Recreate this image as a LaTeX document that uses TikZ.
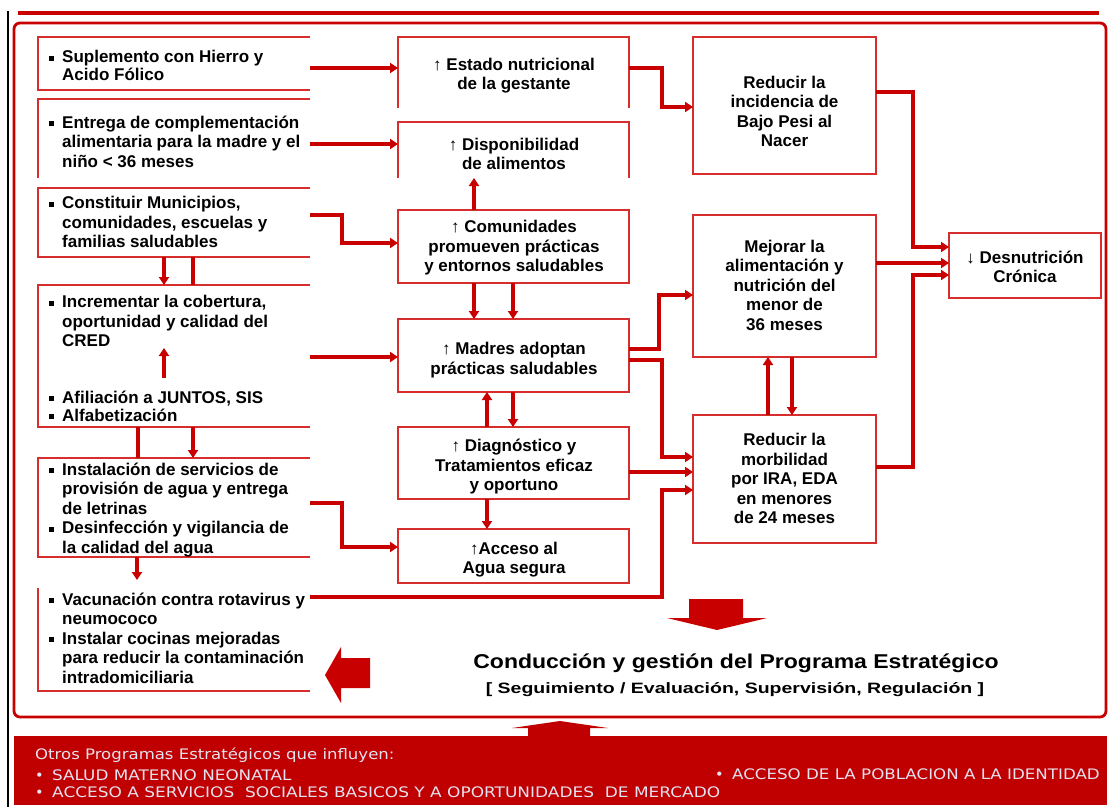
\documentclass[tikz,border=0pt]{standalone}
\usepackage{graphicx}
\usepackage{fontspec}
\setmainfont{Liberation Sans}
\newfontfamily\bandfont{DejaVu Sans}
\usetikzlibrary{arrows.meta}
\definecolor{rl}{RGB}{200,0,0}
\definecolor{bl}{RGB}{215,45,45}
\definecolor{band}{RGB}{192,0,0}
\definecolor{btxt}{RGB}{228,226,240}
\newcommand{\bu}{\makebox[13pt][l]{\rule[2pt]{5pt}{5pt}}}
\newcommand{\ind}{\hspace*{13pt}}
\newcommand{\bbu}{\makebox[17pt][l]{•}}
\begin{document}
\begin{tikzpicture}[x=1pt,y=-1pt,
  gbox/.style={inner sep=0pt, outer sep=0pt, draw=none},
  fullbox/.style={inner sep=0pt, outer sep=0pt, draw=bl, line width=1.8pt},
  brd/.style={draw=bl, line width=1.8pt},
  txt/.style={font=\bfseries\fontsize{17}{19.5}\selectfont, align=center, inner sep=0pt},
  ltxt/.style={font=\bfseries\fontsize{17}{19.5}\selectfont, align=left, inner sep=0pt, anchor=west},
  ar/.style={draw=rl, line width=3.2pt, -{Triangle[length=8pt,width=10pt]}},
  ln/.style={draw=rl, line width=3.2pt},
  btext/.style={font=\bandfont\fontsize{14.5}{16}\selectfont, text=btxt, anchor=west, inner sep=0pt}]
\useasboundingbox (0,0) rectangle (1112,807);
\fill[white] (0,0) rectangle (1112,807);

% frame
\draw[black, line width=2pt] (7.5,11) -- (7.5,807);
\draw[rl, line width=4.5pt] (18,13) -- (1099,13);
\draw[rl, line width=2.8pt, rounded corners=6pt] (14,23) rectangle (1106,717);

% left boxes
\node[gbox, minimum width=272pt, minimum height=53pt] (L1) at (174,63.5) {};
\node[gbox, minimum width=272pt, minimum height=79pt] (L2) at (174,138.5) {};
\node[gbox, minimum width=272pt, minimum height=69pt] (L3) at (174,222.5) {};
\node[gbox, minimum width=272pt, minimum height=142pt] (L4) at (174,356) {};
\node[gbox, minimum width=272pt, minimum height=99pt] (L5) at (174,507.5) {};
\node[gbox, minimum width=272pt, minimum height=111pt] (L6) at (174,635.5) {};
\draw[brd] (L1.north east) -- (L1.north west) -- (L1.south west) -- (L1.south east);
\draw[brd] (L2.north east) -- (L2.north west) -- (L2.south west);
\draw[brd] (L3.north east) -- (L3.north west) -- (L3.south west) -- (L3.south east);
\draw[brd] (L4.north east) -- (L4.north west) -- (L4.south west) -- (L4.south east);
\draw[brd] (L5.north east) -- (L5.north west) -- (L5.south west) -- (L5.south east);
\draw[brd] ([yshift=-8pt]L6.north west) -- (L6.south west) -- (L6.south east);

\node[ltxt, font=\bfseries\fontsize{17}{17.5}\selectfont] (tL1) at (49,65.5) {\bu Suplemento con Hierro y\\\ind Acido Fólico};
\node[ltxt] (tL2) at (49,141.7) {\bu Entrega de complementación\\\ind alimentaria para la madre y el\\\ind niño < 36 meses};
\node[ltxt] (tL3) at (49,222) {\bu Constituir Municipios,\\\ind comunidades, escuelas y\\\ind familias saludables};
\node[ltxt] (tL4a) at (49,321) {\bu Incrementar la cobertura,\\\ind oportunidad y calidad del\\\ind CRED};
\node[ltxt, font=\bfseries\fontsize{17}{18}\selectfont] (tL4b) at (49,406) {\bu Afiliación a JUNTOS, SIS\\\bu Alfabetización};
\node[ltxt] (tL5) at (49,510) {\bu Instalación de servicios de\\\ind provisión de agua y entrega\\\ind de letrinas\\\bu Desinfección y vigilancia de\\\ind la calidad del agua};
\node[ltxt] (tL6) at (49,638) {\bu Vacunación contra rotavirus y\\\ind neumococo\\\bu Instalar cocinas mejoradas\\\ind para reducir la contaminación\\\ind intradomiciliaria};

% middle boxes
\node[gbox, minimum width=231pt, minimum height=71pt] (A) at (513.5,72.5) {};
\node[gbox, minimum width=231pt, minimum height=56pt] (B) at (513.5,150) {};
\node[fullbox, minimum width=231pt, minimum height=73pt] (C) at (513.5,246.5) {};
\node[fullbox, minimum width=231pt, minimum height=73pt] (D) at (513.5,355.5) {};
\node[fullbox, minimum width=231pt, minimum height=72pt] (E) at (513.5,463) {};
\node[fullbox, minimum width=231pt, minimum height=54pt] (F) at (513.5,556) {};
\draw[brd] (A.south west) -- (A.north west) -- (A.north east) -- (A.south east);
\draw[brd] (B.south west) -- (B.north west) -- (B.north east) -- (B.south east);

\node[txt] (tA) at (514,75.5) {↑ Estado nutricional\\de la gestante};
\node[txt] (tB) at (514,154) {↑ Disponibilidad\\de alimentos};
\node[txt] (tC) at (514,248) {↑ Comunidades\\promueven prácticas\\y entornos saludables};
\node[txt] (tD) at (514,360) {↑ Madres adoptan\\prácticas saludables};
\node[txt] (tE) at (514,467) {↑ Diagnóstico y\\Tratamientos eficaz\\y oportuno};
\node[txt] (tF) at (514,559.5) {↑Acceso al\\Agua segura};

% right boxes
\node[fullbox, minimum width=183pt, minimum height=137pt] (G) at (784.5,105.5) {};
\node[fullbox, minimum width=183pt, minimum height=142pt] (H) at (784.5,286) {};
\node[fullbox, minimum width=183pt, minimum height=128pt] (I) at (784.5,479) {};
\node[fullbox, minimum width=152pt, minimum height=65pt] (J) at (1025,265.5) {};
\node[txt] (tG) at (784.5,111.5) {Reducir la\\incidencia de\\Bajo Pesi al\\Nacer};
\node[txt] (tH) at (784.5,285) {Mejorar la\\alimentación y\\nutrición del\\menor de\\36 meses};
\node[txt] (tI) at (784.5,478.5) {Reducir la\\morbilidad\\por IRA, EDA\\en menores\\de 24 meses};
\node[txt] (tJ) at (1025,267) {↓ Desnutrición\\Crónica};

% connectors left -> middle
\draw[ar] (L1.east |- 0,68) -- (A.west |- 0,68);
\draw[ar] (L2.east |- 0,144) -- (B.west |- 0,144);
\draw[ar] (L3.east |- 0,215) -- (342,215) -- (342,243) -- (C.west |- 0,243);
\draw[ar] (L4.east |- 0,357) -- (D.west |- 0,357);
\draw[ar] (L5.east |- 0,503) -- (342,503) -- (342,547) -- (F.west |- 0,547);
\draw[ar] (L6.east |- 0,597) -- (662,597) -- (662,490) -- (I.west |- 0,490);

% left verticals
\draw[ar] (L3.south -| 164,0) -- (L4.north -| 164,0);
\draw[ln] (L3.south -| 193,0) -- (L4.north -| 193,0);
\coordinate (c4a) at (164,378);
\coordinate (c4b) at (164,348);
\draw[ar] (c4a) -- (c4b);
\draw[ln] (L4.south -| 138,0) -- (L5.north -| 138,0);
\draw[ar] (L4.south -| 193,0) -- (L5.north -| 193,0);
\draw[ar] (L5.south -| 137,0) -- (L6.north -| 137,0);

% middle verticals
\draw[ar] (C.north -| 474,0) -- (B.south -| 474,0);
\draw[ar] (C.south -| 474,0) -- (D.north -| 474,0);
\draw[ar] (C.south -| 513,0) -- (D.north -| 513,0);
\draw[ar] (E.north -| 487,0) -- (D.south -| 487,0);
\draw[ar] (D.south -| 513,0) -- (E.north -| 513,0);
\draw[ar] (E.south -| 487,0) -- (F.north -| 487,0);

% middle -> right
\draw[ar] (A.east |- 0,68) -- (662,68) -- (662,107) -- (G.west |- 0,107);
\draw[ar] (D.east |- 0,349) -- (659,349) -- (659,295) -- (H.west |- 0,295);
\draw[ar] (D.east |- 0,360) -- (662,360) -- (662,457) -- (I.west |- 0,457);
\draw[ar] (E.east |- 0,472) -- (I.west |- 0,472);

% right
\draw[ar] (I.north -| 768,0) -- (H.south -| 768,0);
\draw[ar] (H.south -| 792,0) -- (I.north -| 792,0);
\draw[ar] (G.east |- 0,92) -- (913,92) -- (913,247) -- (J.west |- 0,247);
\draw[ar] (H.east |- 0,263) -- (J.west |- 0,263);
\draw[ar] (I.east |- 0,467) -- (913,467) -- (913,275) -- (J.west |- 0,275);

% big arrows
\fill[rl] (370,658) -- (341,658) -- (341,647) -- (325,675) -- (341,703) -- (341,688) -- (370,688) -- cycle;
\fill[rl] (689,599) -- (743,599) -- (743,618) -- (767,618) -- (717,630) -- (667,618) -- (689,618) -- cycle;

% title
\node[font=\bfseries\fontsize{20}{24}\selectfont, inner sep=0pt] (title) at (736,663) {\scalebox{1.15}[1]{Conducción y gestión del Programa Estratégico}};
\node[font=\bfseries\fontsize{15}{18}\selectfont, inner sep=0pt] (sub) at (735,690) {\scalebox{1.3}[1]{[ Seguimiento / Evaluación, Supervisión, Regulación ]}};

% bottom band
\fill[band] (14,736) rectangle (1107,805);
\fill[band] (528,737) -- (528,728) -- (512,728) -- (560,721) -- (608,728) -- (590,728) -- (590,737) -- cycle;
\node[btext] (o1) at (35,755) {\scalebox{1.14}[1]{Otros Programas Estratégicos que influyen:}};
\node[btext] (o2) at (35,775) {\bbu\scalebox{1.16}[1]{SALUD MATERNO NEONATAL}};
\node[btext] (o3) at (35,792) {\bbu\scalebox{1.17}[1]{ACCESO A SERVICIOS\ \ SOCIALES BASICOS Y A OPORTUNIDADES\ \ DE MERCADO}};
\node[btext] (o4) at (715,774) {\bbu\scalebox{1.15}[1]{ACCESO DE LA POBLACION A LA IDENTIDAD}};
\end{tikzpicture}
\end{document}
